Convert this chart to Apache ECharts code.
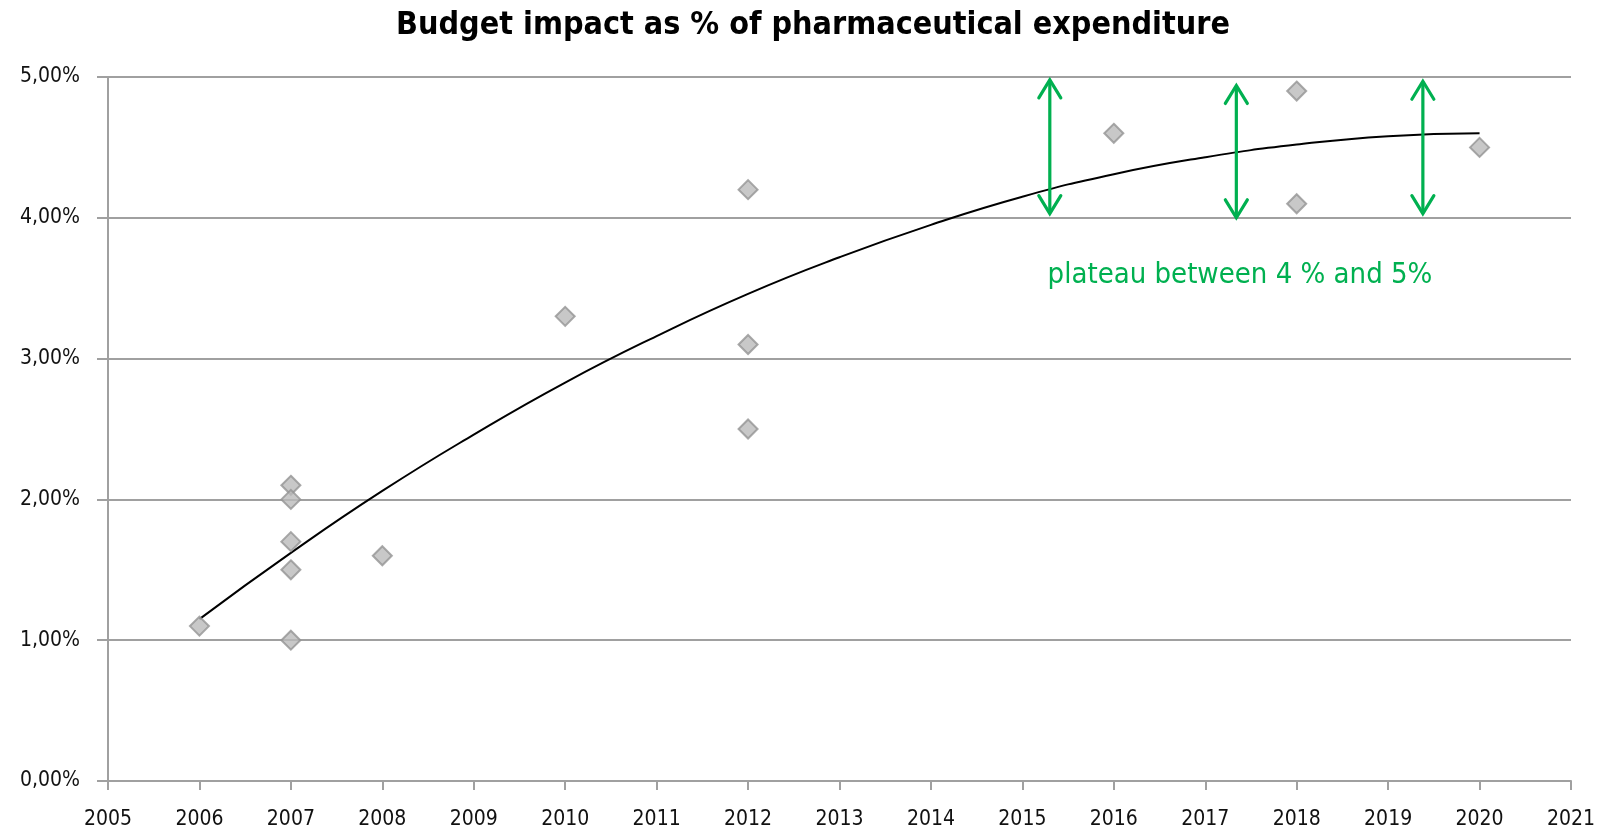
<!DOCTYPE html>
<html>
<head>
<meta charset="utf-8">
<title>Budget impact</title>
<script src="https://cdn.jsdelivr.net/npm/echarts@6/dist/echarts.min.js"></script>
<style>
  html, body { margin: 0; padding: 0; background: #ffffff; }
  #chart { width: 1613px; height: 830px; }
</style>
</head>
<body>
<div id="chart"></div>
<script>
// ---- data ----
const titleText = 'Budget impact as % of pharmaceutical expenditure';
// observed points: [year, % of pharmaceutical expenditure]
const pointYears  = [2006, 2007, 2007, 2007, 2007, 2007, 2008, 2010, 2012, 2012, 2012, 2016, 2018, 2018, 2020];
const pointValues = [1.1,  2.1,  2.0,  1.7,  1.5,  1.0,  1.6,  3.3,  4.2,  3.1,  2.5,  4.6,  4.9,  4.1,  4.5];
// trend line
const trendYears  = [2006, 2007, 2008, 2009, 2010, 2011, 2012, 2013, 2014, 2015, 2016, 2017, 2018, 2019, 2020];
const trendValues = [1.15, 1.62, 2.06, 2.46, 2.83, 3.16, 3.46, 3.72, 3.95, 4.15, 4.31, 4.43, 4.52, 4.58, 4.60];
// plateau arrows: x position (year), bottom value, top value
const arrowYears   = [2015.3, 2017.34, 2019.38];
const arrowBottoms = [4.03, 4.0, 4.03];
const arrowTops    = [4.98, 4.94, 4.97];
// annotation
const noteText = 'plateau between 4 % and 5%';
const notePos  = [2017.38, 3.59];
// axes
const xMin = 2005, xMax = 2021, xStep = 1;
const yMin = 0, yMax = 5, yStep = 1;

const green = '#00b050';
const labelFont = 'DejaVu Sans Condensed, DejaVu Sans, sans-serif';

const scatterData = pointYears.map((x, i) => [x, pointValues[i]]);
const trendData = trendYears.map((x, i) => [x, trendValues[i]]);
const arrowData = arrowYears.map((x, i) => [x, arrowBottoms[i], arrowTops[i]]);

const chart = echarts.init(document.getElementById('chart'), null, { renderer: 'canvas' });

chart.setOption({
  animation: false,
  backgroundColor: '#ffffff',
  title: {
    text: titleText,
    left: 808,
    top: 5,
    textAlign: 'center',
    textStyle: {
      fontFamily: labelFont,
      fontWeight: 'bold',
      fontSize: 32,
      color: '#000000'
    }
  },
  grid: { left: 108, right: 42, top: 77, bottom: 45, containLabel: false },
  xAxis: {
    type: 'value',
    min: xMin, max: xMax, interval: xStep,
    axisLine: { show: true, onZero: false, lineStyle: { color: '#a0a0a0', width: 2 } },
    axisTick: { show: true, length: 9, inside: false, lineStyle: { color: '#a0a0a0', width: 2 } },
    splitLine: { show: false },
    axisLabel: {
      margin: 28,
      fontFamily: labelFont,
      fontSize: 21,
      color: '#111111',
      formatter: v => String(v)
    }
  },
  yAxis: {
    type: 'value',
    min: yMin, max: yMax, interval: yStep,
    axisLine: { show: true, lineStyle: { color: '#a0a0a0', width: 2 } },
    axisTick: { show: true, length: 11, lineStyle: { color: '#a0a0a0', width: 2 } },
    splitLine: { show: true, lineStyle: { color: '#a0a0a0', width: 2 } },
    axisLabel: {
      margin: 28,
      fontFamily: labelFont,
      fontSize: 21,
      color: '#111111',
      formatter: v => v.toFixed(2).replace('.', ',') + '%'
    }
  },
  series: [
    {
      name: 'trend',
      type: 'line',
      data: trendData,
      smooth: true,
      showSymbol: false,
      symbol: 'none',
      lineStyle: { color: '#000000', width: 2 },
      z: 3
    },
    {
      name: 'points',
      type: 'scatter',
      data: scatterData,
      symbol: 'diamond',
      symbolSize: 19,
      itemStyle: { color: '#bababa', borderColor: '#939393', borderWidth: 2 },
      z: 4
    },
    {
      name: 'arrows',
      type: 'custom',
      data: arrowData,
      encode: { x: 0, y: [1, 2] },
      z: 5,
      renderItem: function (params, api) {
        const x = api.value(0);
        const bot = api.coord([x, api.value(1)]);
        const top = api.coord([x, api.value(2)]);
        const hw = 11, hl = 18;
        const st = { stroke: green, lineWidth: 3.2, fill: null, lineCap: 'round', lineJoin: 'miter' };
        return {
          type: 'group',
          children: [
            { type: 'line', shape: { x1: top[0], y1: top[1] + 1, x2: bot[0], y2: bot[1] - 1 }, style: st },
            { type: 'polyline', shape: { points: [[top[0] - hw, top[1] + hl], [top[0], top[1]], [top[0] + hw, top[1] + hl]] }, style: st },
            { type: 'polyline', shape: { points: [[bot[0] - hw, bot[1] - hl], [bot[0], bot[1]], [bot[0] + hw, bot[1] - hl]] }, style: st }
          ]
        };
      }
    },
    {
      name: 'note',
      type: 'custom',
      data: [notePos],
      encode: { x: 0, y: 1 },
      z: 5,
      renderItem: function (params, api) {
        const p = api.coord([api.value(0), api.value(1)]);
        return {
          type: 'text',
          x: p[0], y: p[1],
          style: {
            text: noteText,
            fill: green,
            fontFamily: labelFont,
            fontSize: 29,
            align: 'center',
            verticalAlign: 'middle'
          }
        };
      }
    }
  ]
});
</script>
</body>
</html>
